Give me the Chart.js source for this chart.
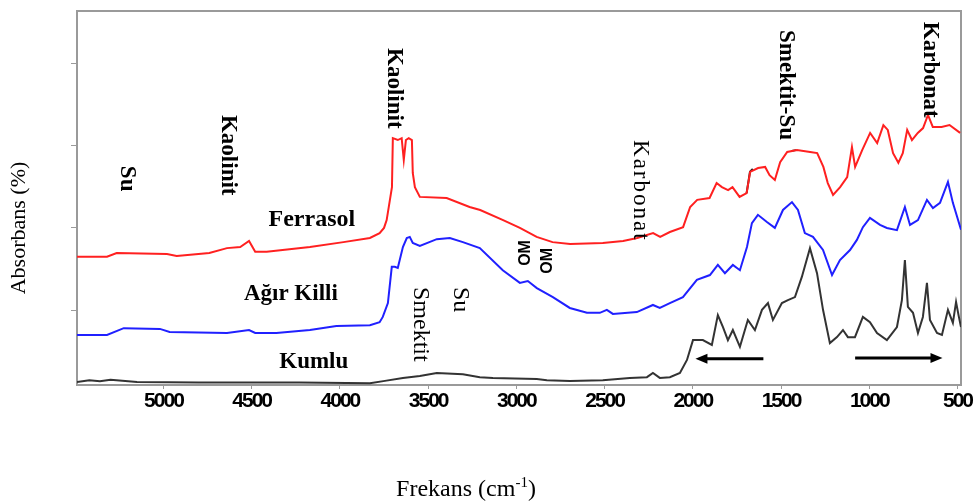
<!DOCTYPE html>
<html lang="tr">
<head>
<meta charset="utf-8">
<title>Toprak FTIR spektrumları</title>
<script src="https://cdn.jsdelivr.net/npm/chart.js@4.4.1/dist/chart.umd.min.js"></script>
<style>
  html, body { margin: 0; padding: 0; background: #fff; }
  #kutu { width: 978px; height: 503px; }
</style>
</head>
<body>
<div id="kutu"><canvas id="grafik"></canvas></div>
<script>
// Frekans (cm-1) ve absorbans (%) değerleri
const ferrasolFrekans = [5490, 5320, 5265, 4980, 4925, 4740, 4640, 4565, 4515, 4480,
  4415, 4170, 3980, 3830, 3775, 3750, 3735, 3705, 3700, 3672,
  3650, 3638, 3626, 3610, 3592, 3587, 3575, 3547, 3395, 3265,
  3205, 3075, 2980, 2885, 2795, 2695, 2510, 2395, 2315, 2225,
  2185, 2130, 2055, 2015, 1975, 1905, 1865, 1835, 1800, 1775,
  1735, 1695, 1675, 1630, 1590, 1565, 1535, 1505, 1465, 1410,
  1335, 1295, 1260, 1235, 1205, 1165, 1125, 1098, 1080, 1040,
  995, 955, 920, 895, 865, 835, 810, 785, 758, 725,
  695, 667, 640, 590, 545, 485];
const ferrasolAbs = [34.3, 34.3, 35.3, 35.0, 34.5, 35.3, 36.6, 36.9, 38.5, 35.6,
  35.6, 36.9, 38.2, 39.3, 40.6, 42.0, 44.1, 52.9, 66.0, 65.5,
  66.0, 60.2, 65.5, 66.0, 65.5, 56.7, 52.9, 50.3, 50.0, 47.6,
  46.8, 44.1, 42.0, 39.6, 38.2, 37.7, 38.0, 38.5, 39.3, 40.6,
  39.6, 40.9, 42.2, 47.6, 49.5, 50.0, 54.0, 52.9, 52.1, 52.9,
  50.3, 51.3, 57.0, 58.0, 58.3, 56.1, 54.8, 59.6, 62.3, 62.8,
  62.3, 62.0, 58.3, 54.0, 50.8, 52.9, 55.6, 63.6, 58.3, 62.8,
  67.4, 64.7, 69.5, 68.2, 62.0, 59.4, 62.0, 68.2, 65.5, 67.4,
  68.7, 72.2, 69.0, 69.0, 69.5, 67.4];

const agirKilliFrekans = [5490, 5320, 5225, 5020, 4965, 4640, 4515, 4480, 4360, 4170,
  4020, 3830, 3775, 3757, 3728, 3706, 3689, 3672, 3643, 3621,
  3604, 3587, 3547, 3451, 3377, 3303, 3207, 3077, 2980, 2935,
  2884, 2793, 2697, 2600, 2527, 2487, 2453, 2317, 2226, 2187,
  2130, 2056, 1977, 1903, 1858, 1818, 1773, 1733, 1693, 1665,
  1631, 1580, 1535, 1489, 1438, 1404, 1365, 1319, 1262, 1211,
  1166, 1109, 1070, 1036, 996, 939, 900, 843, 798, 769,
  724, 673, 639, 599, 554, 526, 480];
const agirKilliAbs = [13.4, 13.4, 15.2, 15.0, 14.2, 13.9, 14.7, 13.9, 13.9, 14.7,
  15.8, 16.0, 16.8, 18.2, 21.9, 31.6, 31.6, 31.3, 36.9, 39.3,
  39.6, 38.0, 37.2, 39.0, 39.3, 38.2, 36.6, 30.7, 27.3, 27.8,
  25.9, 23.5, 20.6, 19.3, 19.3, 20.1, 19.0, 19.5, 21.4, 20.6,
  21.9, 23.5, 28.1, 29.4, 32.1, 29.9, 32.1, 30.7, 36.9, 43.3,
  45.5, 43.6, 42.0, 46.8, 48.9, 46.8, 40.6, 39.6, 36.1, 29.4,
  33.4, 36.1, 38.8, 42.2, 44.7, 42.8, 42.0, 41.4, 47.6, 42.8,
  44.1, 49.5, 47.3, 48.7, 54.3, 48.7, 41.5];

const kumluFrekans = [5490, 5420, 5360, 5300, 5150, 4800, 4230, 3830, 3745, 3643,
  3547, 3451, 3303, 3207, 3133, 2884, 2827, 2697, 2510, 2357,
  2260, 2226, 2187, 2130, 2073, 2033, 1999, 1943, 1892, 1858,
  1829, 1801, 1773, 1733, 1688, 1648, 1608, 1574, 1546, 1495,
  1461, 1421, 1382, 1336, 1296, 1262, 1223, 1183, 1149, 1121,
  1081, 1036, 996, 956, 900, 843, 815, 798, 781, 752,
  724, 696, 673, 656, 616, 588, 554, 526, 508, 492,
  480];
const kumluAbs = [0.8, 1.3, 1.0, 1.4, 0.8, 0.7, 0.7, 0.5, 1.1, 1.9,
  2.4, 3.2, 2.9, 2.1, 1.9, 1.6, 1.3, 1.1, 1.3, 1.9,
  2.1, 3.2, 1.9, 2.1, 3.2, 6.7, 12.0, 12.0, 10.7, 18.7,
  15.5, 12.0, 14.7, 10.2, 17.4, 14.7, 20.1, 21.9, 17.4, 21.9,
  22.7, 23.5, 28.9, 36.6, 29.9, 20.1, 11.2, 12.8, 14.7, 12.8,
  12.8, 18.2, 16.8, 13.9, 12.0, 15.5, 22.7, 33.4, 20.9, 19.3,
  13.9, 18.2, 27.3, 17.4, 13.9, 13.4, 20.1, 16.6, 22.2, 18.2,
  15.5];

// Ferrasol eğrisi üzerindeki koyu işaretler
const isaretFrekans = [1695, 1676, 1660, 1600, 1440, 1415];
const isaretAbs = [51.3, 57.0, 57.8, null, 62.6, 62.8];

// Oklar: başlangıç, bitiş ve seviye
const okBaslangic = [1600, 1080];
const okBitis = [1985, 585];
const okSeviye = [7.0, 7.2];

const xTikler = [500, 1000, 1500, 2000, 2500, 3000, 3500, 4000, 4500, 5000];
const yTikler = [20, 42, 64, 86];

const SERIF = "'Liberation Serif', 'Times New Roman', serif";

// Bant adları (frekans ve seviye eksen birimlerinde)
const yazilar = [
  { metin: 'Su', frekans: 5208, seviye: 58.6, aci: 1, kalin: true, boyut: 23 },
  { metin: 'Kaolinit', frekans: 4636, seviye: 72.2, aci: 1, kalin: true, boyut: 23 },
  { metin: 'Kaolinit', frekans: 3694, seviye: 90.1, aci: 1, kalin: true, boyut: 23 },
  { metin: 'Karbonat', frekans: 2300, seviye: 65.5, aci: 1, kalin: false, boyut: 23, aralik: 2 },
  { metin: 'Smektit-Su', frekans: 1472, seviye: 94.9, aci: 1, kalin: true, boyut: 23 },
  { metin: 'Karbonat', frekans: 656, seviye: 97.1, aci: 1, kalin: true, boyut: 23 },
  { metin: 'Smektit', frekans: 3547, seviye: 26.2, aci: 1, kalin: false, boyut: 24 },
  { metin: 'Su', frekans: 3320, seviye: 26.2, aci: 1, kalin: false, boyut: 24 },
  { metin: 'OM', frekans: 2950, seviye: 35.3, aci: -1, kalin: true, boyut: 16, sans: true },
  { metin: 'OM', frekans: 2825, seviye: 33.2, aci: -1, kalin: true, boyut: 16, sans: true },
  { metin: 'Ferrasol', frekans: 4159, seviye: 42.5, aci: 0, kalin: true, boyut: 24 },
  { metin: 'Ağır Killi', frekans: 4278, seviye: 22.7, aci: 0, kalin: true, boyut: 23 },
  { metin: 'Kumlu', frekans: 4148, seviye: 4.5, aci: 0, kalin: true, boyut: 23 }
];

function seri(ad, frekans, abs, renk) {
  return {
    label: ad,
    data: frekans.map((f, i) => ({ x: f, y: abs[i] })),
    borderColor: renk,
    borderWidth: 2,
    pointRadius: 0,
    tension: 0,
    fill: false,
    spanGaps: false
  };
}

// Çizim alanının üst ve sağ kenarı; eksen rakamları sıkışık yazılır
const cerceve = {
  id: 'cerceve',
  beforeDraw(chart) {
    chart.ctx.letterSpacing = '-2px';
  },
  beforeDatasetsDraw(chart) {
    const { ctx, chartArea: a } = chart;
    ctx.letterSpacing = '0px';
    ctx.save();
    ctx.strokeStyle = '#9a9a9a';
    ctx.lineWidth = 2;
    ctx.beginPath();
    ctx.moveTo(a.left, a.top);
    ctx.lineTo(a.right, a.top);
    ctx.lineTo(a.right, a.bottom);
    ctx.stroke();
    ctx.restore();
  }
};

const etiketler = {
  id: 'etiketler',
  afterDraw(chart) {
    const { ctx, scales: { x, y } } = chart;
    ctx.save();
    ctx.fillStyle = '#000';
    ctx.strokeStyle = '#000';

    yazilar.forEach(t => {
      const px = x.getPixelForValue(t.frekans);
      const py = y.getPixelForValue(t.seviye);
      ctx.font = (t.kalin ? 'bold ' : '') + t.boyut + 'px ' +
        (t.sans ? "'Liberation Sans', Arial, sans-serif" : SERIF);
      ctx.letterSpacing = (t.aralik || 0) + 'px';
      ctx.save();
      ctx.translate(px, py);
      if (t.aci === 1) {
        ctx.rotate(Math.PI / 2);
        ctx.textAlign = 'left';
        ctx.textBaseline = 'middle';
      } else if (t.aci === -1) {
        ctx.rotate(-Math.PI / 2);
        ctx.textAlign = 'center';
        ctx.textBaseline = 'middle';
      } else {
        ctx.textAlign = 'center';
        ctx.textBaseline = 'alphabetic';
      }
      ctx.fillText(t.metin, 0, 0);
      ctx.restore();
    });
    ctx.letterSpacing = '0px';

    // oklar
    okBaslangic.forEach((f, i) => {
      const x0 = x.getPixelForValue(f);
      const x1 = x.getPixelForValue(okBitis[i]);
      const py = y.getPixelForValue(okSeviye[i]);
      const yon = Math.sign(x1 - x0);
      ctx.lineWidth = 3;
      ctx.beginPath();
      ctx.moveTo(x0, py);
      ctx.lineTo(x1 - yon * 8, py);
      ctx.stroke();
      ctx.beginPath();
      ctx.moveTo(x1, py);
      ctx.lineTo(x1 - yon * 12, py - 5);
      ctx.lineTo(x1 - yon * 12, py + 5);
      ctx.closePath();
      ctx.fill();
    });

    // eksen başlıkları
    ctx.save();
    ctx.translate(19, 228);
    ctx.rotate(-Math.PI / 2);
    ctx.font = '22px ' + SERIF;
    ctx.textAlign = 'center';
    ctx.textBaseline = 'middle';
    ctx.fillText('Absorbans (%)', 0, 0);
    ctx.restore();

    const ana = 'Frekans (cm';
    const ust = '-1';
    const son = ')';
    ctx.textBaseline = 'alphabetic';
    ctx.textAlign = 'left';
    ctx.font = '24px ' + SERIF;
    const w1 = ctx.measureText(ana).width;
    const w3 = ctx.measureText(son).width;
    ctx.font = '15px ' + SERIF;
    const w2 = ctx.measureText(ust).width;
    let bx = 466 - (w1 + w2 + w3) / 2;
    const by = 496;
    ctx.font = '24px ' + SERIF;
    ctx.fillText(ana, bx, by);
    ctx.font = '15px ' + SERIF;
    ctx.fillText(ust, bx + w1, by - 9);
    ctx.font = '24px ' + SERIF;
    ctx.fillText(son, bx + w1 + w2, by);
    ctx.restore();
  }
};

const grafik = new Chart(document.getElementById('grafik'), {
  type: 'line',
  data: {
    datasets: [
      seri('Ferrasol', ferrasolFrekans, ferrasolAbs, '#ff2020'),
      seri('Ağır Killi', agirKilliFrekans, agirKilliAbs, '#2020ff'),
      seri('Kumlu', kumluFrekans, kumluAbs, '#333333'),
      seri('işaret', isaretFrekans, isaretAbs, '#202020')
    ]
  },
  options: {
    responsive: true,
    maintainAspectRatio: false,
    animation: false,
    layout: { padding: { left: 0, top: 11, right: 17, bottom: 78 } },
    plugins: {
      legend: { display: false },
      tooltip: { enabled: false }
    },
    scales: {
      x: {
        type: 'linear',
        reverse: true,
        min: 480,
        max: 5490,
        afterBuildTicks: s => { s.ticks = xTikler.map(v => ({ value: v })); },
        afterFit: s => { s.height = 40; },
        grid: { drawOnChartArea: false, drawTicks: true, tickLength: 4, color: '#9a9a9a' },
        border: { color: '#9a9a9a', width: 2 },
        ticks: {
          color: '#000',
          padding: 1,
          maxRotation: 0,
          autoSkip: false,
          font: {
            family: "'Liberation Sans', Arial, sans-serif",
            size: 21,
            weight: 'bold',
            lineHeight: 1.1
          },
          callback: v => String(v)
        }
      },
      y: {
        min: 0,
        max: 100,
        afterBuildTicks: s => { s.ticks = yTikler.map(v => ({ value: v })); },
        afterFit: s => { s.width = 77; },
        grid: { drawOnChartArea: false, drawTicks: true, tickLength: 6, color: '#9a9a9a' },
        border: { color: '#9a9a9a', width: 2 },
        ticks: { display: false }
      }
    }
  },
  plugins: [cerceve, etiketler]
});
</script>
</body>
</html>
